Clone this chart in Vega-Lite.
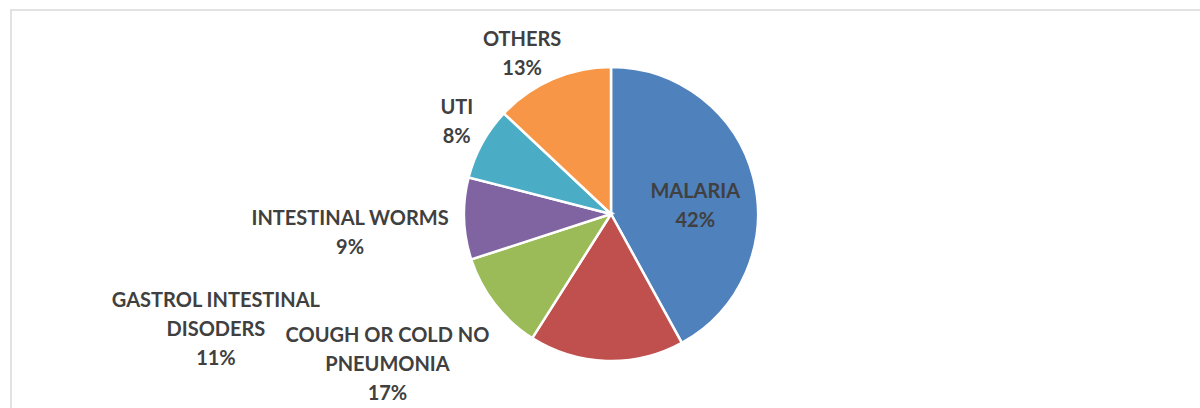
{
  "$schema": "https://vega.github.io/schema/vega-lite/v6.json",
  "width": 1200,
  "height": 408,
  "autosize": {"type": "none"},
  "padding": {"left": 11, "top": 10, "right": 0, "bottom": 0},
  "background": "white",
  "view": {"stroke": "#d9d9d9", "strokeWidth": 1.5, "fill": "white"},
  "data": {
    "values": [
      {"rank": 1, "category": "MALARIA", "label": ["MALARIA", "42%"], "pct": 42},
      {"rank": 2, "category": "COUGH OR COLD NO PNEUMONIA", "label": ["COUGH OR COLD NO", "PNEUMONIA", "17%"], "pct": 17},
      {"rank": 3, "category": "GASTROL INTESTINAL DISODERS", "label": ["GASTROL INTESTINAL", "DISODERS", "11%"], "pct": 11},
      {"rank": 4, "category": "INTESTINAL WORMS", "label": ["INTESTINAL WORMS", "9%"], "pct": 9},
      {"rank": 5, "category": "UTI", "label": ["UTI", "8%"], "pct": 8},
      {"rank": 6, "category": "OTHERS", "label": ["OTHERS", "13%"], "pct": 13}
    ]
  },
  "encoding": {
    "theta": {"field": "pct", "type": "quantitative", "stack": true},
    "order": {"field": "rank", "type": "quantitative"}
  },
  "layer": [
    {
      "mark": {"type": "arc", "outerRadius": 147, "stroke": "white", "strokeWidth": 2.5},
      "encoding": {
        "color": {
          "field": "category",
          "type": "nominal",
          "scale": {
            "domain": ["MALARIA", "COUGH OR COLD NO PNEUMONIA", "GASTROL INTESTINAL DISODERS", "INTESTINAL WORMS", "UTI", "OTHERS"],
            "range": ["#4F81BD", "#C0504D", "#9BBB59", "#8064A2", "#4BACC6", "#F79646"]
          },
          "legend": null
        }
      }
    },
    {
      "mark": {
        "type": "text",
        "font": "Lato",
        "fontWeight": "bold",
        "fontSize": 20,
        "lineHeight": 29,
        "color": "#404040",
        "align": "center",
        "baseline": "middle",
        "radius": {"expr": "datum.category === 'MALARIA' ? 87 : 176"},
        "dx": {"expr": "datum.category === 'OTHERS' ? -19 : datum.category === 'INTESTINAL WORMS' ? -85 : datum.category === 'GASTROL INTESTINAL DISODERS' ? -256 : datum.category === 'COUGH OR COLD NO PNEUMONIA' ? -218 : 0"},
        "dy": {"expr": "datum.category === 'MALARIA' ? 0 : datum.category === 'UTI' ? -21.5 : datum.category === 'INTESTINAL WORMS' ? -1 : datum.category === 'GASTROL INTESTINAL DISODERS' ? -21 : datum.category === 'COUGH OR COLD NO PNEUMONIA' ? -54 : -12"}
      },
      "encoding": {"text": {"field": "label"}}
    }
  ]
}
